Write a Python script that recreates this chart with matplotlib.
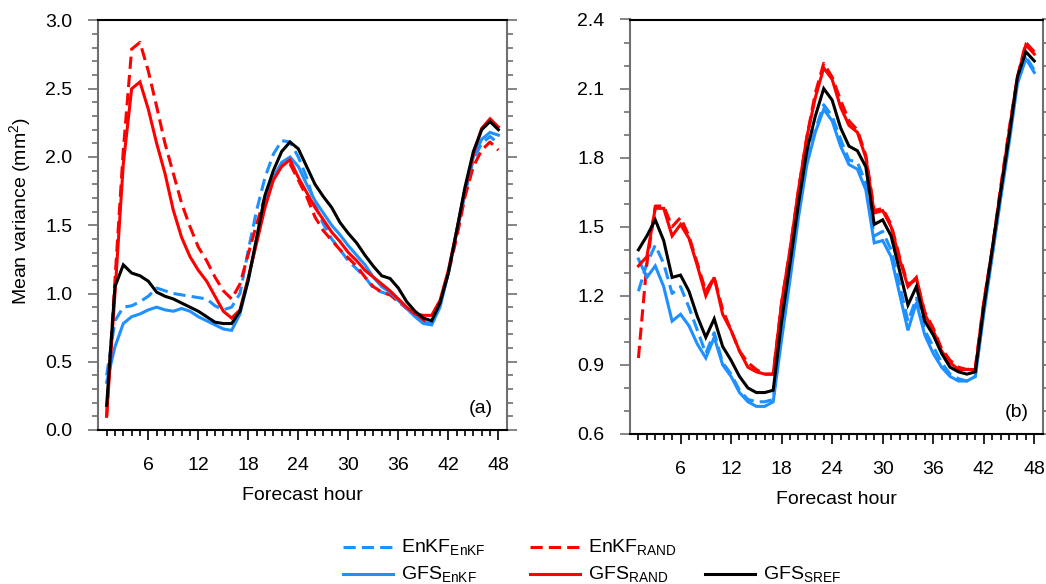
import numpy as np
import matplotlib
matplotlib.use("Agg")
import matplotlib.pyplot as plt
from matplotlib.lines import Line2D
from matplotlib.ticker import FixedLocator, FormatStrFormatter

plt.rcParams["font.family"] = ["Liberation Sans", "DejaVu Sans"]
plt.rcParams["mathtext.fontset"] = "custom"
plt.rcParams["mathtext.rm"] = "Liberation Sans"

# Forecast hours 1..48
hours = np.arange(1, 49)

# ---- panel (a) ----
enkf_enkf_a = [0.40, 0.80, 0.90, 0.91, 0.94, 0.98, 1.04, 1.02, 1.00, 0.99, 0.98, 0.97,
               0.96, 0.91, 0.88, 0.90, 1.00, 1.32, 1.61, 1.85, 2.02, 2.12, 2.11, 2.00,
               1.85, 1.65, 1.51, 1.40, 1.32, 1.24, 1.18, 1.12, 1.04, 1.01, 0.99, 0.95,
               0.90, 0.85, 0.79, 0.78, 0.93, 1.15, 1.44, 1.73, 1.98, 2.10, 2.15, 2.10]
enkf_rand_a = [0.10, 1.10, 2.05, 2.79, 2.84, 2.63, 2.37, 2.10, 1.88, 1.66, 1.49, 1.34,
               1.24, 1.12, 1.02, 0.96, 1.07, 1.29, 1.51, 1.71, 1.85, 1.95, 1.95, 1.83,
               1.71, 1.56, 1.46, 1.39, 1.32, 1.26, 1.20, 1.12, 1.05, 1.01, 0.99, 0.94,
               0.89, 0.85, 0.80, 0.79, 0.93, 1.15, 1.41, 1.71, 1.93, 2.05, 2.11, 2.05]
gfs_enkf_a = [0.35, 0.61, 0.78, 0.83, 0.85, 0.88, 0.90, 0.88, 0.87, 0.89, 0.87, 0.83,
              0.80, 0.77, 0.74, 0.73, 0.85, 1.10, 1.39, 1.67, 1.85, 1.96, 2.00, 1.93,
              1.80, 1.68, 1.59, 1.50, 1.43, 1.35, 1.28, 1.21, 1.12, 1.05, 1.01, 0.95,
              0.89, 0.83, 0.78, 0.77, 0.90, 1.15, 1.46, 1.76, 2.00, 2.13, 2.18, 2.16]
gfs_rand_a = [0.10, 1.00, 1.95, 2.50, 2.55, 2.35, 2.10, 1.88, 1.61, 1.41, 1.27, 1.17,
              1.09, 0.98, 0.87, 0.82, 0.88, 1.12, 1.37, 1.63, 1.83, 1.93, 1.98, 1.85,
              1.74, 1.63, 1.54, 1.45, 1.38, 1.30, 1.24, 1.17, 1.12, 1.07, 1.02, 0.96,
              0.90, 0.85, 0.84, 0.84, 0.95, 1.17, 1.46, 1.76, 2.02, 2.21, 2.28, 2.22]
gfs_sref_a = [0.18, 1.05, 1.21, 1.15, 1.13, 1.09, 1.01, 0.98, 0.96, 0.93, 0.90, 0.87,
              0.83, 0.79, 0.78, 0.78, 0.87, 1.10, 1.41, 1.72, 1.90, 2.04, 2.11, 2.06,
              1.93, 1.80, 1.71, 1.63, 1.52, 1.44, 1.37, 1.28, 1.20, 1.13, 1.11, 1.04,
              0.94, 0.87, 0.82, 0.80, 0.93, 1.15, 1.46, 1.78, 2.04, 2.20, 2.26, 2.20]

# ---- panel (b) ----
enkf_enkf_b = [1.22, 1.34, 1.42, 1.34, 1.21, 1.24, 1.15, 1.05, 0.95, 1.04, 0.91, 0.86,
               0.79, 0.75, 0.74, 0.74, 0.75, 1.05, 1.30, 1.56, 1.79, 1.92, 2.03, 1.98,
               1.88, 1.79, 1.78, 1.69, 1.46, 1.48, 1.40, 1.25, 1.09, 1.19, 1.05, 0.98,
               0.91, 0.86, 0.84, 0.83, 0.85, 1.14, 1.38, 1.63, 1.88, 2.14, 2.24, 2.18]
enkf_rand_b = [0.93, 1.34, 1.59, 1.59, 1.50, 1.54, 1.46, 1.34, 1.22, 1.28, 1.14, 1.05,
               0.96, 0.91, 0.88, 0.86, 0.86, 1.17, 1.40, 1.66, 1.89, 2.08, 2.21, 2.15,
               2.05, 1.96, 1.92, 1.81, 1.57, 1.58, 1.51, 1.37, 1.25, 1.27, 1.13, 1.06,
               0.97, 0.92, 0.89, 0.88, 0.89, 1.17, 1.40, 1.67, 1.92, 2.15, 2.30, 2.26]
gfs_enkf_b = [1.36, 1.28, 1.33, 1.24, 1.09, 1.12, 1.07, 0.99, 0.93, 1.02, 0.90, 0.85,
              0.78, 0.74, 0.72, 0.72, 0.74, 1.01, 1.27, 1.54, 1.77, 1.91, 2.01, 1.96,
              1.85, 1.77, 1.75, 1.66, 1.43, 1.44, 1.37, 1.21, 1.05, 1.17, 1.03, 0.95,
              0.89, 0.85, 0.83, 0.83, 0.85, 1.12, 1.37, 1.62, 1.86, 2.12, 2.23, 2.17]
gfs_rand_b = [1.33, 1.37, 1.58, 1.58, 1.46, 1.51, 1.45, 1.33, 1.20, 1.28, 1.12, 1.05,
              0.96, 0.89, 0.87, 0.86, 0.86, 1.17, 1.40, 1.66, 1.89, 2.06, 2.19, 2.14,
              2.02, 1.94, 1.91, 1.80, 1.56, 1.57, 1.50, 1.36, 1.24, 1.28, 1.12, 1.05,
              0.96, 0.91, 0.88, 0.88, 0.88, 1.17, 1.40, 1.66, 1.91, 2.15, 2.29, 2.25]
gfs_sref_b = [1.40, 1.46, 1.53, 1.44, 1.28, 1.29, 1.22, 1.11, 1.02, 1.10, 0.98, 0.92,
              0.85, 0.80, 0.78, 0.78, 0.79, 1.09, 1.34, 1.60, 1.83, 1.98, 2.10, 2.05,
              1.93, 1.85, 1.83, 1.76, 1.51, 1.53, 1.46, 1.31, 1.16, 1.24, 1.09, 1.03,
              0.95, 0.89, 0.87, 0.86, 0.87, 1.15, 1.40, 1.65, 1.89, 2.15, 2.26, 2.22]

series_labels = [r"EnKF$_\mathregular{EnKF}$", r"EnKF$_\mathregular{RAND}$",
                 r"GFS$_\mathregular{EnKF}$", r"GFS$_\mathregular{RAND}$",
                 r"GFS$_\mathregular{SREF}$"]

BLUE = "#1e90ff"
RED = "#ff0000"
BLACK = "#000000"
GREY = "#707070"
LW = 2.2
DASH = (4, 2)
styles = [dict(color=BLUE, dashes=DASH), dict(color=RED, dashes=DASH),
          dict(color=BLUE), dict(color=RED), dict(color=BLACK)]

W, H = 1046, 584
fig = plt.figure(figsize=(W / 100, H / 100), dpi=100)


def px_axes(left, top, right, bottom):
    return fig.add_axes([left / W, 1 - bottom / H, (right - left) / W, (bottom - top) / H])


def style_axes(ax, ylim, ymajor, tag):
    ax.set_xlim(0, 49)
    ax.set_ylim(*ylim)
    ax.xaxis.set_major_locator(FixedLocator(np.arange(6, 49, 6)))
    ax.xaxis.set_minor_locator(FixedLocator(np.arange(1, 48)))
    ax.yaxis.set_major_locator(FixedLocator(ymajor))
    ax.yaxis.set_minor_locator(FixedLocator(np.round(np.arange(ylim[0], ylim[1] + 1e-6, 0.1), 2)))
    ax.yaxis.set_major_formatter(FormatStrFormatter("%.1f"))
    for side in ("left", "right"):
        ax.spines[side].set_color(GREY)
        ax.spines[side].set_linewidth(1.5)
    for side in ("top", "bottom"):
        ax.spines[side].set_color(BLACK)
        ax.spines[side].set_linewidth(1.5)
    ax.tick_params(axis="x", which="both", direction="out", bottom=True, top=False,
                   color=BLACK, width=1.2, labelsize=14, pad=12)
    ax.tick_params(axis="x", which="major", length=7.5)
    ax.tick_params(axis="x", which="minor", length=4)
    ax.tick_params(axis="y", which="both", direction="out", left=True, right=True,
                   color=GREY, width=1.2, labelsize=14, pad=11)
    ax.tick_params(axis="y", which="major", length=7.5)
    ax.tick_params(axis="y", which="minor", length=4)
    ax.set_xlabel("Forecast hour", fontsize=14, labelpad=9)
    ax.text(0.967, 0.053, tag, transform=ax.transAxes, ha="right", va="center", fontsize=14)


ax_a = px_axes(98.3, 20.5, 506.7, 430)
ax_b = px_axes(630, 19.5, 1042.7, 434)

data_a = [enkf_enkf_a, enkf_rand_a, gfs_enkf_a, gfs_rand_a, gfs_sref_a]
data_b = [enkf_enkf_b, enkf_rand_b, gfs_enkf_b, gfs_rand_b, gfs_sref_b]

for ax, data in ((ax_a, data_a), (ax_b, data_b)):
    for vals, st, lab in zip(data, styles, series_labels):
        ax.plot(hours, vals, lw=LW, label=lab, solid_joinstyle="miter", **st)

style_axes(ax_a, (0.0, 3.0), [0.0, 0.5, 1.0, 1.5, 2.0, 2.5, 3.0], "(a)")
style_axes(ax_b, (0.6, 2.4), [0.6, 0.9, 1.2, 1.5, 1.8, 2.1, 2.4], "(b)")

ax_a.set_ylabel(r"Mean variance (mm$^\mathregular{2}$)", fontsize=14)
ax_a.yaxis.set_label_coords(-0.158, 0.535)

# legend keys laid out in two rows below the panels
key_len = 50
entries = [(343, 547, 0), (530, 547, 1), (343, 574, 2), (530, 574, 3), (705, 574, 4)]
for x0, yc, i in entries:
    line = Line2D([x0 / W, (x0 + key_len) / W], [1 - yc / H, 1 - yc / H],
                  transform=fig.transFigure, lw=LW, **styles[i])
    fig.add_artist(line)
    fig.text((x0 + key_len + 8) / W, 1 - (yc + 6) / H, series_labels[i],
             fontsize=14, ha="left", va="baseline")

fig.savefig("out.png", dpi=100)
